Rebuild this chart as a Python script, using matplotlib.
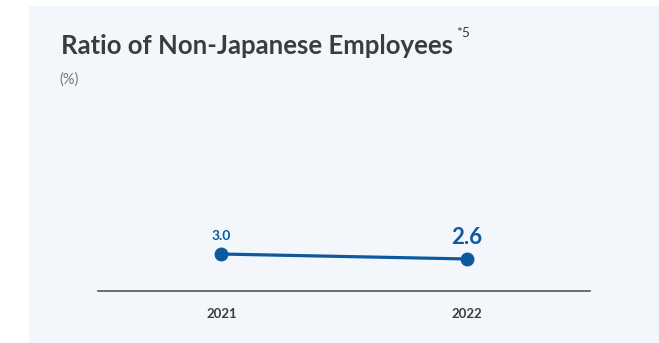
import matplotlib
matplotlib.use("Agg")
import matplotlib.pyplot as plt
from matplotlib.patches import Rectangle

plt.rcParams["font.family"] = ["Lato", "DejaVu Sans"]

# data
years = ["2021", "2022"]
ratio = [3.0, 2.6]
label_sizes = [10, 16]

BLUE = "#0B5AA0"
PANEL = "#F3F6FB"
DARK = "#3C3C3C"

fig = plt.figure(figsize=(6.59, 3.43), dpi=100)
fig.patch.set_facecolor("white")

# light card behind the chart
fig.patches.append(Rectangle((29 / 659, 0), 1 - 29 / 659, 337 / 343,
                             transform=fig.transFigure, facecolor=PANEL,
                             edgecolor="none", zorder=-5))

title = fig.text(61 / 659, (343 - 54) / 343, "Ratio of Non-Japanese Employees",
                 fontsize=18.5, fontweight="bold", color=DARK, va="baseline")
fig.text(456 / 659, (343 - 37) / 343, "*5", fontsize=10, color=DARK,
         va="baseline")
fig.text(59 / 659, (343 - 84) / 343, "(%)", fontsize=10.5, color="#777777",
         va="baseline")

ax = fig.add_axes([98 / 659, 52 / 343, 492 / 659, 191 / 343])
ax.set_facecolor("none")
ax.set_zorder(2)

x = list(range(len(years)))
ax.plot(x, ratio, color=BLUE, lw=2.3, marker="o", markersize=9,
        solid_capstyle="round", zorder=3)

for xi, v, fs in zip(x, ratio, label_sizes):
    ax.annotate(f"{v:.1f}", xy=(xi, v), xytext=(0, 10 if fs < 12 else 11),
                textcoords="offset points", ha="center", va="baseline",
                fontsize=fs, fontweight="bold", color=BLUE)

ax.set_xlim(-0.503, 1.501)
ax.set_ylim(0, 15.5)
ax.set_xticks(x)
ax.set_xticklabels(years, fontsize=9.5, fontweight="bold", color=DARK)
ax.tick_params(axis="x", length=0, pad=12)
ax.set_yticks([])
for s in ["top", "right", "left"]:
    ax.spines[s].set_visible(False)
ax.spines["bottom"].set_color("#555555")
ax.spines["bottom"].set_linewidth(1.2)

fig.savefig("out.png", dpi=100)
